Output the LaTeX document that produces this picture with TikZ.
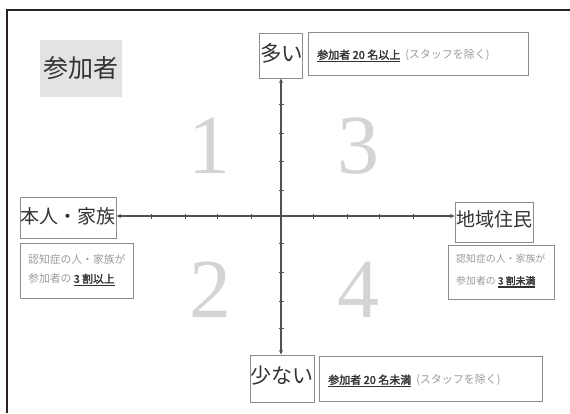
\documentclass[tikz,border=0pt]{standalone}
\usepackage{fontspec}
\setmainfont{Noto Sans CJK JP}
\newfontfamily\jpb{Noto Sans CJK JP}[FakeBold=2.2]
\newfontfamily\numfont{Liberation Serif}
\usetikzlibrary{arrows.meta}
\definecolor{dk}{HTML}{333333}
\definecolor{lg}{HTML}{9A9A9A}
\definecolor{bx}{HTML}{8C8C8C}
\definecolor{ax}{HTML}{505050}
\definecolor{qn}{HTML}{D4D4D4}
\definecolor{fr}{HTML}{2A2222}
\newcommand\myul[1]{\setbox0=\hbox{#1}\rlap{\color{dk}\rule[-3.4pt]{\wd0}{1.6pt}}\box0}
\tikzset{
  box/.style={draw=bx,line width=0.9pt,rectangle,inner sep=0pt},
  lbl/.style={inner sep=0pt,text=dk},
  desc/.style={inner sep=0pt,anchor=west,text=lg,font=\fontsize{11}{12}\selectfont},
  descl/.style={inner sep=0pt,anchor=west,text=lg,font=\fontsize{10.8}{12}\selectfont},
  descr/.style={inner sep=0pt,anchor=west,text=lg,font=\fontsize{9.9}{11}\selectfont},
  axis/.style={draw=ax,line width=1.1pt,{Stealth[length=4.5pt,width=4pt]}-{Stealth[length=4.5pt,width=4pt]}},
  tick/.style={draw=ax,line width=0.8pt},
  qnum/.style={inner sep=0pt,text=qn,font=\numfont\fontsize{84}{84}\selectfont}
}
\begin{document}
\begin{tikzpicture}[x=1pt,y=-1pt]
\useasboundingbox (0,0) rectangle (570,413);
% outer frame (cropped)
\draw[fr,line width=1.4pt] (7,413) -- (7,10) -- (570,10);
% title
\node[rectangle,fill=black!11,minimum width=82pt,minimum height=57pt,inner sep=0pt,text=dk,font=\fontsize{25}{25}\selectfont] (sanka) at (81,68.5) {参加者};
% boxes
\node[box,minimum width=43pt,minimum height=45pt] (ooi) at (280.5,55.5) {};
\node[lbl,font=\fontsize{21.5}{21.5}\selectfont] (ooit) at (281.5,53) {多い};
\node[box,minimum width=220pt,minimum height=43pt] (topd) at (418,53.5) {};
\node[desc] (topdt) at (317,56) {{\jpb\color{dk}\myul{参加者 20 名以上}}\ \ (スタッフを除く)};

\node[box,minimum width=96pt,minimum height=41pt] (honnin) at (68,217.5) {};
\node[lbl,font=\fontsize{19}{19}\selectfont] (honnint) at (68,216) {本人・家族};
\node[box,minimum width=113pt,minimum height=55pt] (leftd) at (76.5,270.5) {};
\node[descl] (leftd1) at (28,259) {認知症の人・家族が};
\node[descl] (leftd2) at (28,280) {参加者の {\jpb\color{dk}\myul{3 割以上}}};

\node[box,minimum width=78pt,minimum height=40pt] (chiiki) at (494,222) {};
\node[lbl,font=\fontsize{19}{19}\selectfont] (chiikit) at (494,219) {地域住民};
\node[box,minimum width=106pt,minimum height=54pt] (rightd) at (501,272) {};
\node[descr] (rightd1) at (456,259) {認知症の人・家族が};
\node[descr] (rightd2) at (456,282) {参加者の {\jpb\color{dk}\myul{3 割未満}}};

\node[box,minimum width=64pt,minimum height=47pt] (sukunai) at (282,378.5) {};
\node[lbl,font=\fontsize{21}{21}\selectfont] (sukunait) at (282,376) {少ない};
\node[box,minimum width=223pt,minimum height=45pt] (botd) at (430.5,378.5) {};
\node[desc] (botdt) at (328,381) {{\jpb\color{dk}\myul{参加者 20 名未満}}\ \ (スタッフを除く)};

% quadrant numbers
\node[qnum] (q1) at (209,146) {1};
\node[qnum] (q3) at (358,146) {3};
\node[qnum] (q2) at (210,290) {2};
\node[qnum] (q4) at (358,290) {4};

% axes
\coordinate (O) at (281,216);
\draw[axis] (honnin.east |- O) -- (chiiki.west |- O);
\draw[axis] (ooi.south -| O) -- (sukunai.north -| O);
% ticks
\foreach \x in {151,185,217,251,313,347,379,413}
  \draw[tick] (\x,213.5) -- (\x,218.5);
\foreach \y in {104,133,161,190,243,272,301,328}
  \draw[tick] (278.5,\y) -- (283.5,\y);
\end{tikzpicture}
\end{document}
